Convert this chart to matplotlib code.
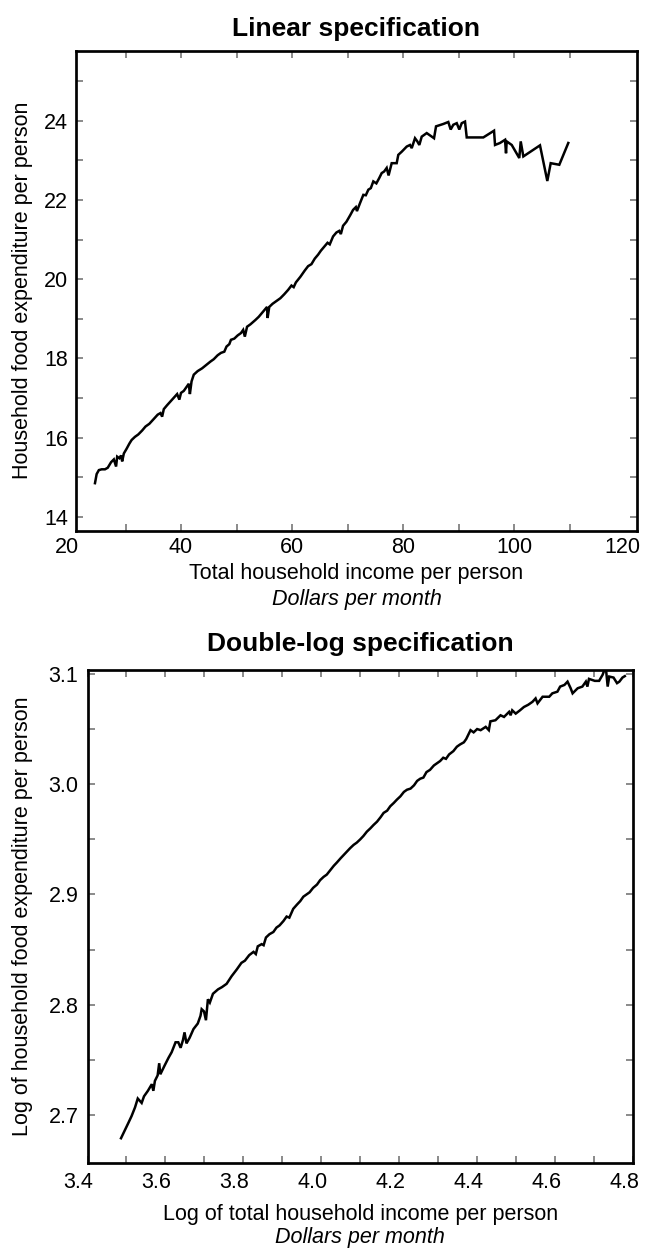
import numpy as np
import matplotlib
matplotlib.use("Agg")
import matplotlib.pyplot as plt
from matplotlib.ticker import FixedLocator, FormatStrFormatter
from matplotlib.transforms import ScaledTranslation

plt.rcParams['font.family'] = ['Liberation Sans', 'DejaVu Sans']

# --- linear specification: income per person vs food expenditure per person
income = [24.5, 24.8, 25.2, 25.7, 26.3, 26.8, 27.4, 27.9, 28.3, 28.5, 28.9, 29.2, 29.4, 29.7,
          30.2, 30.7, 31.1, 31.7, 32.3, 33.0, 33.6, 34.3, 35.2, 35.8, 36.3, 36.6, 36.9, 37.5,
          38.2, 38.9, 39.3, 39.7, 40.0, 40.5, 41.0, 41.4, 41.6, 41.9, 42.3, 43.0, 43.8, 44.6,
          45.3, 45.9, 46.6, 47.2, 47.8, 48.2, 48.7, 49.0, 49.6, 50.2, 50.8, 51.2, 51.5, 51.9,
          52.5, 53.0, 53.4, 54.0, 54.6, 55.2, 55.5, 55.6, 55.9, 56.5, 57.2, 57.9, 58.6, 59.3,
          59.9, 60.3, 60.7, 61.5, 62.3, 62.9, 63.5, 64.1, 64.7, 65.2, 65.8, 66.4, 66.8, 67.4,
          68.0, 68.5, 68.8, 69.2, 69.8, 70.5, 71.0, 71.5, 71.7, 72.25, 72.85, 73.3, 73.75, 74.2,
          74.65, 75.2, 75.7, 76.16, 76.6, 77.06, 77.4, 77.96, 78.86, 79.15, 79.77, 80.67, 81.26,
          81.57, 82.16, 82.58, 82.94, 83.37, 84.27, 85.17, 85.59, 85.95, 87.26, 88.16, 88.59,
          89.06, 89.68, 90.14, 90.58, 91.17, 91.48, 94.47, 96.40, 96.58, 97.48, 98.38, 98.56,
          98.68, 99.59, 100.95, 101.21, 101.68, 104.68, 106.0, 106.61, 108.16, 109.78]
food = [14.85, 15.08, 15.18, 15.20, 15.20, 15.24, 15.38, 15.45, 15.27, 15.52, 15.48, 15.55, 15.40, 15.60,
        15.72, 15.85, 15.94, 16.02, 16.08, 16.18, 16.28, 16.35, 16.49, 16.58, 16.62, 16.53, 16.72, 16.82,
        16.93, 17.04, 17.10, 16.96, 17.13, 17.18, 17.28, 17.36, 17.10, 17.42, 17.59, 17.68, 17.75, 17.84,
        17.92, 17.98, 18.08, 18.14, 18.17, 18.30, 18.36, 18.47, 18.50, 18.58, 18.64, 18.72, 18.55, 18.80,
        18.86, 18.92, 18.97, 19.05, 19.15, 19.25, 19.30, 19.02, 19.30, 19.38, 19.45, 19.52, 19.62, 19.73,
        19.84, 19.80, 19.92, 20.06, 20.22, 20.33, 20.38, 20.52, 20.62, 20.72, 20.82, 20.92, 20.88, 21.08,
        21.18, 21.22, 21.14, 21.35, 21.45, 21.62, 21.75, 21.82, 21.72, 21.92, 22.13, 22.12, 22.26, 22.30,
        22.47, 22.42, 22.55, 22.68, 22.72, 22.81, 22.62, 22.93, 22.93, 23.14, 23.22, 23.35, 23.39,
        23.31, 23.56, 23.48, 23.39, 23.60, 23.69, 23.60, 23.56, 23.86, 23.92, 23.97, 23.78,
        23.90, 23.94, 23.78, 23.94, 23.98, 23.58, 23.58, 23.75, 23.39, 23.44, 23.52, 23.18,
        23.48, 23.39, 23.06, 23.48, 23.10, 23.38, 22.48, 22.93, 22.89, 23.44]

# --- double-log specification
log_income = [3.486, 3.497, 3.505, 3.513, 3.522, 3.529, 3.534, 3.539, 3.545, 3.555, 3.565, 3.569,
              3.573, 3.580, 3.584, 3.587, 3.598, 3.608, 3.616, 3.626, 3.633, 3.639, 3.645, 3.649,
              3.654, 3.662, 3.672, 3.683, 3.690, 3.693, 3.699, 3.704, 3.709, 3.714, 3.722, 3.735,
              3.745, 3.757, 3.770, 3.783, 3.795, 3.804, 3.815, 3.826, 3.832, 3.837, 3.847, 3.852,
              3.858, 3.867, 3.877, 3.885, 3.893, 3.903, 3.911, 3.918, 3.928, 3.938, 3.946, 3.954,
              3.962, 3.970, 3.979, 3.989, 3.997, 4.006, 4.014, 4.023, 4.032, 4.040, 4.050, 4.058,
              4.066, 4.074, 4.083, 4.091, 4.100, 4.108, 4.117, 4.126, 4.134, 4.143, 4.152, 4.160,
              4.169, 4.177, 4.186, 4.194, 4.203, 4.212, 4.220, 4.229, 4.238, 4.246, 4.254, 4.262,
              4.270, 4.279, 4.289, 4.297, 4.305, 4.313, 4.320, 4.328, 4.339, 4.348, 4.356, 4.366,
              4.372, 4.383, 4.391, 4.400, 4.409, 4.422, 4.430, 4.434, 4.447, 4.460, 4.469, 4.482,
              4.486, 4.490, 4.499, 4.510, 4.520, 4.531, 4.542, 4.550, 4.555, 4.568, 4.585, 4.593,
              4.606, 4.613, 4.624, 4.632, 4.640, 4.645, 4.658, 4.670, 4.679, 4.683, 4.687, 4.702,
              4.713, 4.722, 4.730, 4.735, 4.739, 4.750, 4.759, 4.765, 4.773, 4.779]
log_food = [2.679, 2.687, 2.693, 2.699, 2.707, 2.715, 2.713, 2.711, 2.717, 2.722, 2.728, 2.722,
            2.731, 2.736, 2.747, 2.737, 2.745, 2.752, 2.757, 2.766, 2.766, 2.761, 2.768, 2.775,
            2.765, 2.770, 2.778, 2.783, 2.790, 2.796, 2.794, 2.786, 2.805, 2.802, 2.810, 2.814,
            2.816, 2.819, 2.826, 2.832, 2.838, 2.840, 2.845, 2.848, 2.846, 2.853, 2.855, 2.854,
            2.861, 2.864, 2.866, 2.870, 2.872, 2.876, 2.880, 2.879, 2.887, 2.891, 2.894, 2.898,
            2.900, 2.902, 2.906, 2.909, 2.913, 2.916, 2.918, 2.922, 2.926, 2.929, 2.933, 2.936,
            2.939, 2.942, 2.945, 2.947, 2.950, 2.953, 2.957, 2.960, 2.963, 2.966, 2.970, 2.974,
            2.976, 2.980, 2.983, 2.986, 2.989, 2.993, 2.995, 2.996, 2.999, 3.003, 3.005, 3.006,
            3.011, 3.013, 3.017, 3.019, 3.021, 3.024, 3.023, 3.027, 3.030, 3.034, 3.036, 3.038,
            3.041, 3.049, 3.047, 3.050, 3.049, 3.052, 3.049, 3.057, 3.058, 3.0625, 3.061, 3.0656,
            3.0625, 3.067, 3.064, 3.067, 3.070, 3.072, 3.0747, 3.0778, 3.0733, 3.0793, 3.0793, 3.0824,
            3.0839, 3.0885, 3.090, 3.093, 3.087, 3.0824, 3.087, 3.0885, 3.093, 3.0885, 3.0955, 3.0937,
            3.0937, 3.0992, 3.1068, 3.0885, 3.0976, 3.0967, 3.0916, 3.093, 3.0967, 3.098]

top_xlabels = [20, 40, 60, 80, 100, 120]
top_yticks = [14, 16, 18, 20, 22, 24]
bot_xticks = [3.4, 3.6, 3.8, 4.0, 4.2, 4.4, 4.6, 4.8]
bot_yticks = [2.7, 2.8, 2.9, 3.0, 3.1]

W, H = 645, 1249
fig = plt.figure(figsize=(W / 100, H / 100), dpi=100)

FS = 15.5
TICK_KW = dict(direction='in', length=4.8, width=1.4, color='#8a8a8a',
               top=True, right=True, labelsize=FS, labelcolor='black')


def frac(x0, y0, x1, y1):
    # pixel box (top-left origin) -> figure fraction rect
    return [x0 / W, 1 - y1 / H, (x1 - x0) / W, (y1 - y0) / H]


def style_spines(ax):
    for s in ax.spines.values():
        s.set_linewidth(1.95)
        s.set_color('black')


# ---------------- top panel ----------------
ax1 = fig.add_axes(frac(76, 50.7, 637, 530.7))
ax1.plot(income, food, color='black', lw=1.8, solid_joinstyle='miter')
ax1.set_xlim(21.08, 122.16)
ax1.set_ylim(13.65, 25.77)
ax1.xaxis.set_major_locator(FixedLocator([40, 60, 80, 100]))
ax1.xaxis.set_minor_locator(FixedLocator([30, 50, 70, 90, 110]))
ax1.yaxis.set_major_locator(FixedLocator(top_yticks))
ax1.yaxis.set_minor_locator(FixedLocator([15, 17, 19, 21, 23, 25]))
ax1.tick_params(axis='both', which='both', **TICK_KW)
ax1.tick_params(axis='x', which='major', pad=4.3)
ax1.tick_params(axis='y', which='major', pad=5.5)
# 20 and 120 sit just outside the frame
for v in (top_xlabels[0], top_xlabels[-1]):
    ax1.annotate(str(v), xy=(v, 0), xycoords=('data', 'axes fraction'),
                 xytext=(-2, -4.3), textcoords='offset points',
                 ha='center', va='top', fontsize=FS, annotation_clip=False)
style_spines(ax1)

cx1 = (76 + 637) / 2 / W
fig.text(cx1, 1 - 36 / H, 'Linear specification', ha='center', va='baseline',
         fontsize=19, fontweight='bold')
fig.text(cx1, 1 - 579 / H, 'Total household income per person', ha='center',
         va='baseline', fontsize=FS)
fig.text(cx1, 1 - 604.5 / H, 'Dollars per month', ha='center', va='baseline',
         fontsize=FS, style='italic')
fig.text(23 / W, 1 - 290.7 / H, 'Household food expenditure per person', rotation=90,
         ha='center', va='center', fontsize=FS)

# ---------------- bottom panel ----------------
ax2 = fig.add_axes(frac(87.5, 669.5, 633, 1162.5))
ax2.plot(log_income, log_food, color='black', lw=1.8, solid_joinstyle='miter')
ax2.set_xlim(3.4, 4.8)
ax2.set_ylim(2.657, 3.104)
ax2.xaxis.set_major_locator(FixedLocator(bot_xticks))
ax2.xaxis.set_minor_locator(FixedLocator([3.5, 3.7, 3.9, 4.1, 4.3, 4.5, 4.7]))
ax2.yaxis.set_major_locator(FixedLocator(bot_yticks))
ax2.yaxis.set_minor_locator(FixedLocator([2.75, 2.85, 2.95, 3.05]))
ax2.xaxis.set_major_formatter(FormatStrFormatter('%.1f'))
ax2.yaxis.set_major_formatter(FormatStrFormatter('%.1f'))
ax2.tick_params(axis='both', which='both', **TICK_KW)
ax2.tick_params(axis='x', which='major', pad=6.7)
ax2.tick_params(axis='y', which='major', pad=6.5)
# labels of the lower x axis sit a little left of their ticks
shift = ScaledTranslation(-9 / 100, 0, fig.dpi_scale_trans)
for lab in ax2.get_xticklabels():
    lab.set_transform(lab.get_transform() + shift)
style_spines(ax2)

cx2 = (87.5 + 633) / 2 / W
fig.text(cx2, 1 - 651 / H, 'Double-log specification', ha='center', va='baseline',
         fontsize=19, fontweight='bold')
fig.text(cx2, 1 - 1220 / H, 'Log of total household income per person', ha='center',
         va='baseline', fontsize=FS)
fig.text(cx2, 1 - 1243.5 / H, 'Dollars per month', ha='center', va='baseline',
         fontsize=FS, style='italic')
fig.text(23 / W, 1 - 916 / H, 'Log of household food expenditure per person', rotation=90,
         ha='center', va='center', fontsize=FS)

fig.savefig('out.png', dpi=100, facecolor='white')
